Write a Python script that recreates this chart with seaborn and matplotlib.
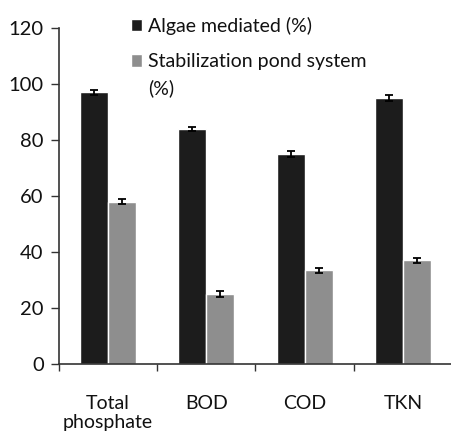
import pandas as pd
import matplotlib
matplotlib.use("Agg")
import matplotlib.pyplot as plt
import seaborn as sns

# --- Data ---
categories = ["Total\nphosphate", "BOD", "COD", "TKN"]
algae_mediated = [97, 84, 75, 95]
algae_err = [0.8, 0.8, 0.9, 1.0]
pond_system = [58, 25, 33.5, 37]
pond_err = [1.0, 0.9, 0.9, 0.8]
series_names = ["Algae mediated (%)", "Stabilization pond system"]
pond_label_tail = "(%)"  # wraps onto a second line in the original legend

df = pd.DataFrame({
    "category": categories * 2,
    "value": algae_mediated + pond_system,
    "err": algae_err + pond_err,
    "series": [series_names[0]] * 4 + [series_names[1]] * 4,
})

sns.set_style("white")
plt.rcParams["font.family"] = ["Lato", "DejaVu Sans"]
plt.rcParams["text.color"] = "#111111"

fig = plt.figure(figsize=(4.52, 4.32), dpi=100)
ax = fig.add_axes([0.1305, 0.1574, 0.8695, 0.7778])

sns.barplot(data=df, x="category", y="value", hue="series",
            palette=["#1c1c1c", "#8e8e8e"], width=0.57, saturation=1,
            errorbar=None, ax=ax, legend=True)

# error bars placed on the bar centres drawn by seaborn
for container, errs in zip(ax.containers, [algae_err, pond_err]):
    xs = [p.get_x() + p.get_width() / 2 for p in container]
    ys = [p.get_height() for p in container]
    ax.errorbar(xs, ys, yerr=errs, fmt="none", ecolor="black",
                elinewidth=1.3, capsize=3, capthick=1.3)

ax.set_xlim(-0.5, 3.5)
ax.set_ylim(0, 120)
ax.set_yticks(range(0, 121, 20))
ax.set_xlabel("")
ax.set_ylabel("")

ax.set_xticks([-0.5, 0.5, 1.5, 2.5, 3.5], minor=True)
ax.tick_params(axis="x", which="major", length=0, pad=22, labelsize=14,
               labelcolor="#111111")
ax.tick_params(axis="x", which="minor", length=5, width=1, color="#333333", direction="out", bottom=True)
ax.tick_params(axis="y", length=6, width=1, color="#333333", direction="out", left=True,
               labelsize=14.5, labelcolor="#111111", pad=5)
for lab in ax.get_xticklabels():
    lab.set_linespacing(1.15)

for side in ["top", "right"]:
    ax.spines[side].set_visible(False)
for side in ["left", "bottom"]:
    ax.spines[side].set_color("#333333")
    ax.spines[side].set_linewidth(1.2)

handles, labels = ax.get_legend_handles_labels()
ax.get_legend().remove()
leg = fig.legend(handles, labels, loc="upper left", bbox_to_anchor=(0.272, 0.979),
                 frameon=False, fontsize=14, handlelength=0.6, handleheight=0.6,
                 handletextpad=0.3, labelspacing=0.95, borderaxespad=0)

# second line of the pond-system label, set under its first line
fig.canvas.draw()
bb = leg.get_texts()[1].get_window_extent().transformed(fig.transFigure.inverted())
fig.text(bb.x0, bb.y0 - 0.062, pond_label_tail, fontsize=14, ha="left", va="bottom")

fig.savefig("out.png", dpi=100)
